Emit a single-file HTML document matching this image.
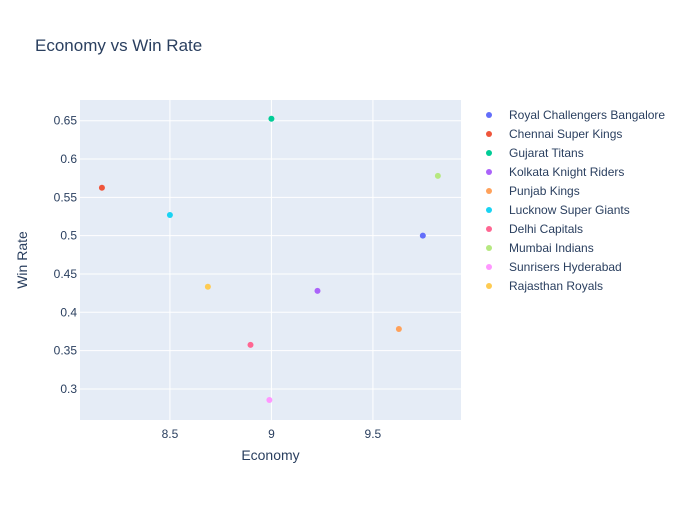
<!DOCTYPE html>
<html><head><meta charset="utf-8"><style>
body{margin:0;background:#fff;font-family:"Liberation Sans",Arial,sans-serif;}
svg text{font-family:"Liberation Sans",Arial,sans-serif;fill:#2a3f5f;}
</style></head><body>
<svg id="chart" width="700" height="500">
<rect width="700" height="500" fill="#fff"/>
<text x="35" y="51" font-size="17">Economy vs Win Rate</text>
<rect x="80" y="100" width="381" height="320" fill="#e5ecf6"/>
<g id="grid"></g><g id="points"></g><g id="legend"></g>
<text x="270.5" y="460" font-size="14" text-anchor="middle">Economy</text>
<text x="0" y="0" font-size="14" text-anchor="middle" transform="translate(27,260) rotate(-90)">Win Rate</text>
</svg>
<script>
const teams=["Royal Challengers Bangalore","Chennai Super Kings","Gujarat Titans","Kolkata Knight Riders","Punjab Kings","Lucknow Super Giants","Delhi Capitals","Mumbai Indians","Sunrisers Hyderabad","Rajasthan Royals"];
const economy=[9.746,8.165,9.0,9.227,9.628,8.5,8.897,9.820,8.99,8.687];
const winRate=[0.5,0.5625,0.6526,0.428,0.3783,0.527,0.3575,0.578,0.2856,0.4333];
const xTicks=[8.5,9,9.5];
const xTickLabels=["8.5","9","9.5"];
const yTicks=[0.3,0.35,0.4,0.45,0.5,0.55,0.6,0.65];
const yTickLabels=["0.3","0.35","0.4","0.45","0.5","0.55","0.6","0.65"];
const colors=["#636efa","#EF553B","#00cc96","#ab63fa","#FFA15A","#19d3f3","#FF6692","#B6E880","#FF97FF","#FECB52"];
const X0=80,X1=461,Y0=100,Y1=420,xmin=8.057,xmax=9.934,ymin=0.2595,ymax=0.677;
const xs=v=>X0+(v-xmin)/(xmax-xmin)*(X1-X0);
const ys=v=>Y1-(v-ymin)/(ymax-ymin)*(Y1-Y0);
const NS="http://www.w3.org/2000/svg";
function mk(tag,attrs,parent){const e=document.createElementNS(NS,tag);for(const k in attrs)e.setAttribute(k,attrs[k]);parent.appendChild(e);return e;}
const grid=document.getElementById('grid');
xTicks.forEach((t,i)=>{
 const l=mk('line',{x1:xs(t),x2:xs(t),y1:Y0,y2:Y1,stroke:'#fff','stroke-width':1},grid);
 
 
 const tx=mk('text',{x:xs(t),y:438,'font-size':12,'text-anchor':'middle'},grid);tx.textContent=xTickLabels[i];
 
 
});
yTicks.forEach((t,i)=>{
 const l=mk('line',{x1:X0,x2:X1,y1:ys(t),y2:ys(t),stroke:'#fff','stroke-width':1},grid);
 
 
 const tx=mk('text',{x:77,y:ys(t)+4,'font-size':12,'text-anchor':'end'},grid);tx.textContent=yTickLabels[i];
 
 
});
const pts=document.getElementById('points'),leg=document.getElementById('legend');
teams.forEach((n,i)=>{
 const c=mk('circle',{cx:xs(economy[i]),cy:ys(winRate[i]),r:3,fill:colors[i]},pts);
 
 
 const y=115+i*19;
 const g=mk('g',{},leg);
 
 
 mk('circle',{cx:489,cy:y,r:3,fill:colors[i]},g);
 const t=mk('text',{x:509,y:y+4,'font-size':12},g);t.textContent=n;
});
</script>
</body></html>
